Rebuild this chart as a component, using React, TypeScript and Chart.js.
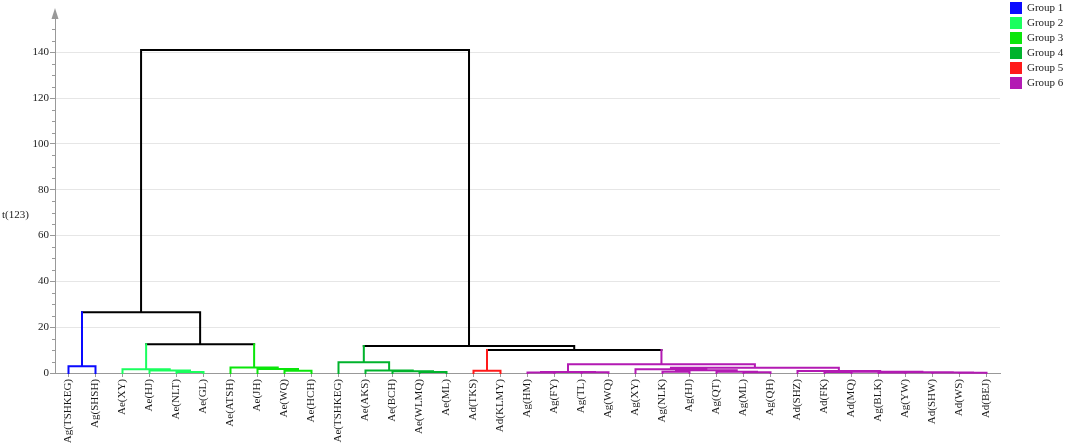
import React, { useEffect, useRef } from "react";
import { Chart, registerables } from "chart.js";

Chart.register(...registerables);

// ---------- data ----------
const leafLabels: string[] = [
  "Ag(TSHKEG)", "Ag(SHSH)", "Ae(XY)", "Ae(HJ)", "Ae(NLT)", "Ae(GL)", "Ae(ATSH)", "Ae(JH)",
  "Ae(WQ)", "Ae(HCH)", "Ae(TSHKEG)", "Ae(AKS)", "Ae(BCH)", "Ae(WLMQ)", "Ae(ML)", "Ad(TKS)",
  "Ad(KLMY)", "Ag(HM)", "Ag(FY)", "Ag(TL)", "Ag(WQ)", "Ag(XY)", "Ag(NLK)", "Ag(HJ)",
  "Ag(QT)", "Ag(ML)", "Ag(QH)", "Ad(SHZ)", "Ad(FK)", "Ad(MQ)", "Ag(BLK)", "Ag(YW)",
  "Ad(SHW)", "Ad(WS)", "Ad(BEJ)",
];

// merge k creates node id = leafLabels.length + k
const mergeLeft: number[] = [0, 4, 3, 2, 8, 7, 6, 38, 35, 13, 12, 11, 10, 15, 17, 19, 49, 22, 25, 24, 52, 21, 28, 30, 33, 32, 58, 57, 27, 56, 51, 48, 47, 43];
const mergeRight: number[] = [1, 5, 36, 37, 9, 39, 40, 41, 42, 14, 44, 45, 46, 16, 18, 20, 50, 23, 26, 53, 54, 55, 29, 31, 34, 59, 60, 61, 62, 63, 64, 65, 66, 67];
const mergeHeight: number[] = [3.0, 0.4, 1.1, 1.6, 1.0, 1.7, 2.4, 12.5, 26.5, 0.4, 0.8, 1.1, 4.7, 1.0, 0.2, 0.3, 0.4, 0.5, 0.3, 0.6, 1.2, 1.6, 0.4, 0.2, 0.15, 0.25, 0.35, 0.6, 0.9, 2.3, 3.8, 10.0, 11.8, 141.0];
// 0 = link (black), 1..6 = group
const mergeGroup: number[] = [1, 2, 2, 2, 3, 3, 3, 0, 0, 4, 4, 4, 4, 5, 6, 6, 6, 6, 6, 6, 6, 6, 6, 6, 6, 6, 6, 6, 6, 6, 6, 0, 0, 0];

const groupNames: string[] = ["Group 1", "Group 2", "Group 3", "Group 4", "Group 5", "Group 6"];
const groupColors: string[] = ["#0a0aff", "#1aff5e", "#0ae60a", "#00b32c", "#ff1a1a", "#b31ab3"];
const linkColor = "#000000";

const yTickValues: number[] = [0, 20, 40, 60, 80, 100, 120, 140];
const yMinorStep = 5;
const yMin = 0;
const yMax = 155;
const yTitle = "t(123)";

// ---------- styling ----------
const FONT = "'Liberation Serif', 'Times New Roman', serif";
const axisColor = "#999999";
const gridColor = "#e6e6e6";
const textColor = "#1a1a1a";

type Pt = { x: number; y: number | null };

function buildSegments(): Pt[][][] {
  const n = leafLabels.length;
  const nodeX: number[] = leafLabels.map((_, i) => i);
  const nodeH: number[] = leafLabels.map(() => 0);
  const nodeG: number[] = leafLabels.map(() => 0);
  mergeLeft.forEach((l, k) => {
    const r = mergeRight[k];
    if (l < n) nodeG[l] = mergeGroup[k];
    if (r < n) nodeG[r] = mergeGroup[k];
  });
  mergeLeft.forEach((l, k) => {
    const r = mergeRight[k];
    nodeX.push((nodeX[l] + nodeX[r]) / 2);
    nodeH.push(mergeHeight[k]);
    nodeG.push(mergeGroup[k]);
  });
  const segs: Pt[][][] = [0, 1, 2, 3, 4, 5, 6].map(() => []);
  mergeLeft.forEach((l, k) => {
    const r = mergeRight[k];
    const g = mergeGroup[k];
    const h = mergeHeight[k];
    const xl = nodeX[l], xr = nodeX[r];
    const hl = nodeH[l], hr = nodeH[r];
    const lc = g || nodeG[l];
    const rc = g || nodeG[r];
    if (lc === g && rc === g) {
      segs[g].push([{ x: xl, y: hl }, { x: xl, y: h }, { x: xr, y: h }, { x: xr, y: hr }]);
    } else {
      segs[lc].push([{ x: xl, y: hl }, { x: xl, y: h }]);
      segs[g].push([{ x: xl, y: h }, { x: xr, y: h }]);
      segs[rc].push([{ x: xr, y: h }, { x: xr, y: hr }]);
    }
  });
  return segs;
}

function flatten(lines: Pt[][]): Pt[] {
  const out: Pt[] = [];
  lines.forEach((line) => {
    line.forEach((p) => out.push(p));
    const last = line[line.length - 1];
    out.push({ x: last.x, y: null });
  });
  return out;
}

const decorPlugin = {
  id: "decor",
  afterDraw(chart: any) {
    const ctx: CanvasRenderingContext2D = chart.ctx;
    const ys = chart.scales.y;
    const area = chart.chartArea;
    ctx.save();
    // minor ticks
    ctx.strokeStyle = axisColor;
    ctx.lineWidth = 1;
    for (let v = yMin + yMinorStep; v < yMax; v += yMinorStep) {
      if (yTickValues.includes(v)) continue;
      const py = Math.round(ys.getPixelForValue(v)) + 0.5;
      ctx.beginPath();
      ctx.moveTo(area.left - 3, py);
      ctx.lineTo(area.left, py);
      ctx.stroke();
    }
    // arrow on top of y axis
    ctx.fillStyle = axisColor;
    ctx.beginPath();
    ctx.moveTo(area.left, area.top - 10);
    ctx.lineTo(area.left - 3.5, area.top + 1);
    ctx.lineTo(area.left + 3.5, area.top + 1);
    ctx.closePath();
    ctx.fill();
    // y title (horizontal)
    ctx.fillStyle = textColor;
    ctx.font = `11px ${FONT}`;
    ctx.textAlign = "left";
    ctx.textBaseline = "middle";
    ctx.fillText(yTitle, 2, 215);
    // legend
    groupNames.forEach((name, i) => {
      const top = 2 + i * 15;
      ctx.fillStyle = groupColors[i];
      ctx.fillRect(1010, top, 12, 12);
      ctx.fillStyle = textColor;
      ctx.fillText(name, 1027, top + 6.5);
    });
    ctx.restore();
  },
};

export default function App() {
  const ref = useRef<HTMLCanvasElement | null>(null);
  useEffect(() => {
    if (!ref.current) return;
    const segs = buildSegments();
    const datasets: any[] = [];
    groupNames.forEach((name, i) => {
      datasets.push({
        label: name,
        data: flatten(segs[i + 1]),
        borderColor: groupColors[i],
        backgroundColor: groupColors[i],
      });
    });
    datasets.push({ label: "link", data: flatten(segs[0]), borderColor: linkColor, backgroundColor: linkColor });
    datasets.forEach((d) => {
      d.showLine = true;
      d.pointRadius = 0;
      d.borderWidth = 2;
      d.spanGaps = false;
      d.tension = 0;
      d.borderCapStyle = "square";
      d.borderJoinStyle = "miter";
      d.clip = false;
    });
    const chart = new Chart(ref.current, {
      type: "scatter",
      data: { datasets },
      options: {
        animation: false,
        responsive: false,
        layout: { padding: { top: 18, right: 65, left: 0, bottom: 0 } },
        plugins: { legend: { display: false }, tooltip: { enabled: false } },
        scales: {
          x: {
            type: "linear",
            min: -0.5,
            max: leafLabels.length - 0.5,
            afterBuildTicks: (s: any) => {
              s.ticks = leafLabels.map((_, i) => ({ value: i }));
            },
            afterFit: (s: any) => {
              s.height = 70;
            },
            ticks: {
              autoSkip: false,
              minRotation: 90,
              maxRotation: 90,
              padding: 2,
              color: textColor,
              font: { family: FONT, size: 11 },
              callback: (v: any) => leafLabels[Math.round(Number(v))] ?? "",
            },
            grid: { drawOnChartArea: false, drawTicks: true, tickLength: 4, tickColor: axisColor },
            border: { color: axisColor, width: 1 },
          },
          y: {
            type: "linear",
            min: yMin,
            max: yMax,
            afterBuildTicks: (s: any) => {
              s.ticks = yTickValues.map((v) => ({ value: v }));
            },
            afterFit: (s: any) => {
              s.width = 55;
            },
            ticks: { padding: 1, color: textColor, font: { family: FONT, size: 11 } },
            grid: {
              color: (c: any) => (c.tick && c.tick.value === 0 ? "rgba(0,0,0,0)" : gridColor),
              tickColor: axisColor,
              tickLength: 5,
            },
            border: { color: axisColor, width: 1 },
          },
        },
      } as any,
      plugins: [decorPlugin],
    });
    return () => chart.destroy();
  }, []);
  return (
    <div style={{ position: "absolute", left: 0, top: 0, width: 1065, height: 443, background: "#fff" }}>
      <canvas ref={ref} width={1065} height={443} style={{ width: 1065, height: 443, display: "block" }} />
    </div>
  );
}
